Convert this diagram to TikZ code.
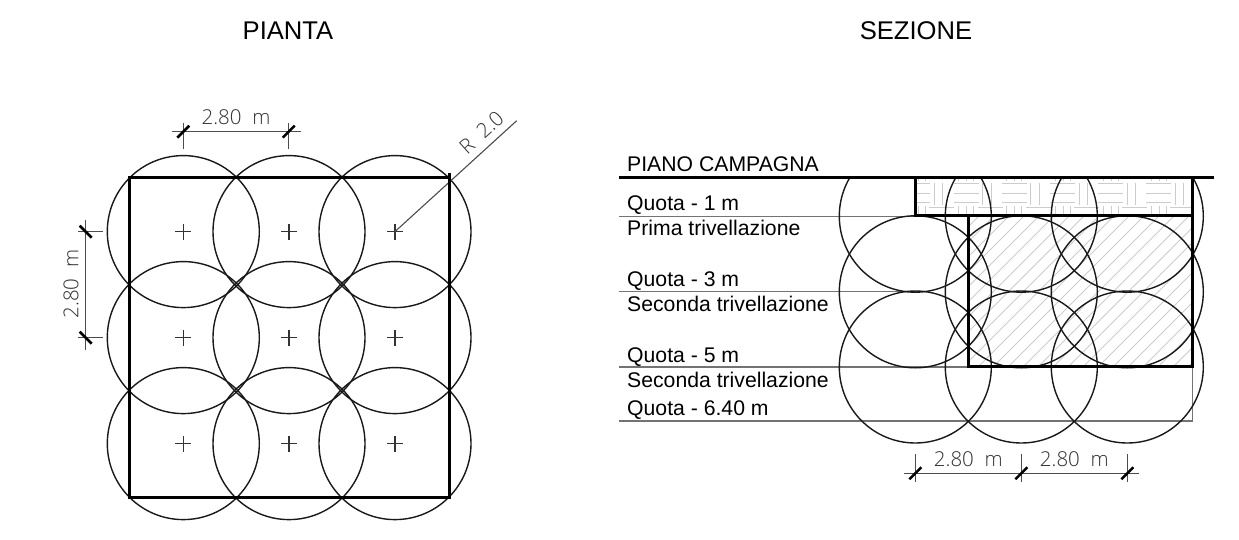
\documentclass[tikz,border=0pt]{standalone}
\usepackage{fontspec}
\usetikzlibrary{calc}
\setmainfont{Liberation Sans}
\newfontfamily\cadfont{Open Sans Light}
\tikzset{
  ring/.style={line width=1.4pt,black!90},
  heavy/.style={line width=3pt,black},
  thinline/.style={line width=1.2pt,black!55},
  dimline/.style={line width=1.1pt,black!70},
  slash/.style={line width=2.6pt,black},
  crossmark/.style={line width=1.2pt,black!80},
  parquet/.style={line width=1.0pt,black!20},
  hatchline/.style={line width=1.0pt,black!20},
  title/.style={font=\fontsize{25.6}{28}\selectfont,anchor=center},
  label/.style={font=\fontsize{21.2}{24}\selectfont,anchor=base west,text=black,inner sep=0pt},
  dimtext/.style={font=\cadfont\fontsize{20.5}{24}\selectfont,anchor=center,text=black!80,inner sep=0pt}
}
\begin{document}
\begin{tikzpicture}[x=1pt,y=-1pt]
\useasboundingbox (0,0) rectangle (1239,540);
\fill[white] (0,0) rectangle (1239,540);

\node[title] (titleA) at (288,31) {PIANTA};
\node[title] (titleB) at (916,31) {SEZIONE};

% ---------- PIANTA ----------
\foreach \i/\x in {1/183.3,2/289,3/395}
  \foreach \j/\y in {1/231.6,2/337.6,3/443.6}{
    \coordinate (p\i\j) at (\x,\y);
    \draw[ring] (p\i\j) circle (76);
    \draw[crossmark] ($(p\i\j)+(-8,0)$) -- ($(p\i\j)+(8,0)$) ($(p\i\j)+(0,-8)$) -- ($(p\i\j)+(0,8)$);
  }
\coordinate (sqA) at (129.3,178);
\coordinate (sqB) at (449.3,497.4);
\draw[heavy] (sqA) rectangle (sqB);
\coordinate (rStart) at (395,231.6);
\coordinate (rEnd) at (516.7,120.7);
\draw[dimline] (rStart) -- (rEnd);
\draw[line width=3.4pt] (449.5,172.7) -- (449.5,188);
\node[dimtext,rotate=42] (rlab) at (481.5,132.5) {R\ \ 2.0};

% top dimension
\coordinate (dt1) at (183.3,131.7);
\coordinate (dt2) at (288.7,131.7);
\draw[dimline] (171.7,131.7) -- (300.7,131.7);
\foreach \c in {dt1,dt2}{
  \draw[dimline] ($(\c)+(0,-8.7)$) -- ($(\c)+(0,17.3)$);
  \draw[slash] ($(\c)+(-6,6)$) -- ($(\c)+(6,-6)$);
}
\node[dimtext] (dtl) at (236,117) {2.80\ \ m};

% left dimension
\coordinate (dl1) at (85.7,231.7);
\coordinate (dl2) at (85.7,337.7);
\draw[dimline] (85.7,220) -- (85.7,349.5);
\foreach \c in {dl1,dl2}{
  \draw[dimline] ($(\c)+(-8,0)$) -- ($(\c)+(17,0)$);
  \draw[slash] ($(\c)+(-6,-6)$) -- ($(\c)+(6,6)$);
}
\node[dimtext,rotate=90] (dll) at (71,284) {2.80\ \ m};

% ---------- SEZIONE ----------
% hatch, lower box
\begin{scope}
  \clip (968.5,216) rectangle (1192.3,367);
  \foreach \k in {0,...,26}
    \draw[hatchline] ({980+15*\k},200) -- ++(-180,180);
\end{scope}
% hatch, upper box
\begin{scope}
  \clip (915.3,178) rectangle (1192.3,216);
  \foreach \a in {857.2,905.4,953.6,1001.8,1050,1098.2,1146.4,1194.6}{
    \foreach \y in {183.3,193.3,203}
      \draw[parquet] (\a,\y) -- ++(25,0);
    \foreach \d in {29,37.5}
      \draw[parquet] ({\a+\d},183) -- ({\a+\d},205);
    \foreach \d in {5,13,20}{
      \draw[parquet] ({\a+\d},178) -- ({\a+\d},181);
      \draw[parquet] ({\a+\d},206) -- ({\a+\d},214);
    }
    \draw[parquet] ({\a+24},208) -- ({\a+49},208);
  }
\end{scope}

% level lines
\draw[thinline] (619,216.3) -- (915.3,216.3);
\draw[thinline] (619,291.7) -- (915.3,291.7);
\draw[thinline] (619,367) -- (968.5,367);
\draw[thinline] (619,421) -- (1192.3,421) -- (1192.3,367);

% circles
\begin{scope}
  \clip (830,178) rectangle (1220,450);
  \foreach \i/\x in {1/915.3,2/1021.3,3/1127.3}
    \foreach \j/\y in {1/216.2,2/291.8,3/367}{
      \coordinate (s\i\j) at (\x,\y);
      \draw[ring] (s\i\j) circle (76);
    }
\end{scope}

% boxes and ground
\draw[heavy] (915.3,178) -- (915.3,216) -- (1192.3,216);
\draw[heavy] (1192.3,178) -- (1192.3,366.7) -- (968.5,366.7) -- (968.5,216);
\draw[line width=3pt] (619,178) -- (1214,178);

% labels
\node[label] (l0) at (627,171.5) {PIANO CAMPAGNA};
\node[label] (l1) at (627,211) {Quota - 1 m};
\node[label] (l2) at (627,236) {Prima trivellazione};
\node[label] (l3) at (627,286) {Quota - 3 m};
\node[label] (l4) at (627,311) {Seconda trivellazione};
\node[label] (l5) at (627,362) {Quota - 5 m};
\node[label] (l6) at (627,387) {Seconda trivellazione};
\node[label] (l7) at (627,415.5) {Quota - 6.40 m};

% bottom dimension
\coordinate (db1) at (915.3,473.3);
\coordinate (db2) at (1021.3,473.3);
\coordinate (db3) at (1127.3,473.3);
\draw[dimline] (904,473.3) -- (1138.7,473.3);
\foreach \c in {db1,db2,db3}{
  \draw[dimline] ($(\c)+(0,-19)$) -- ($(\c)+(0,8.5)$);
  \draw[slash] ($(\c)+(-6,6)$) -- ($(\c)+(6,-6)$);
}
\node[dimtext] (dbl1) at (968.3,459) {2.80\ \ m};
\node[dimtext] (dbl2) at (1074.3,459) {2.80\ \ m};
\end{tikzpicture}
\end{document}
